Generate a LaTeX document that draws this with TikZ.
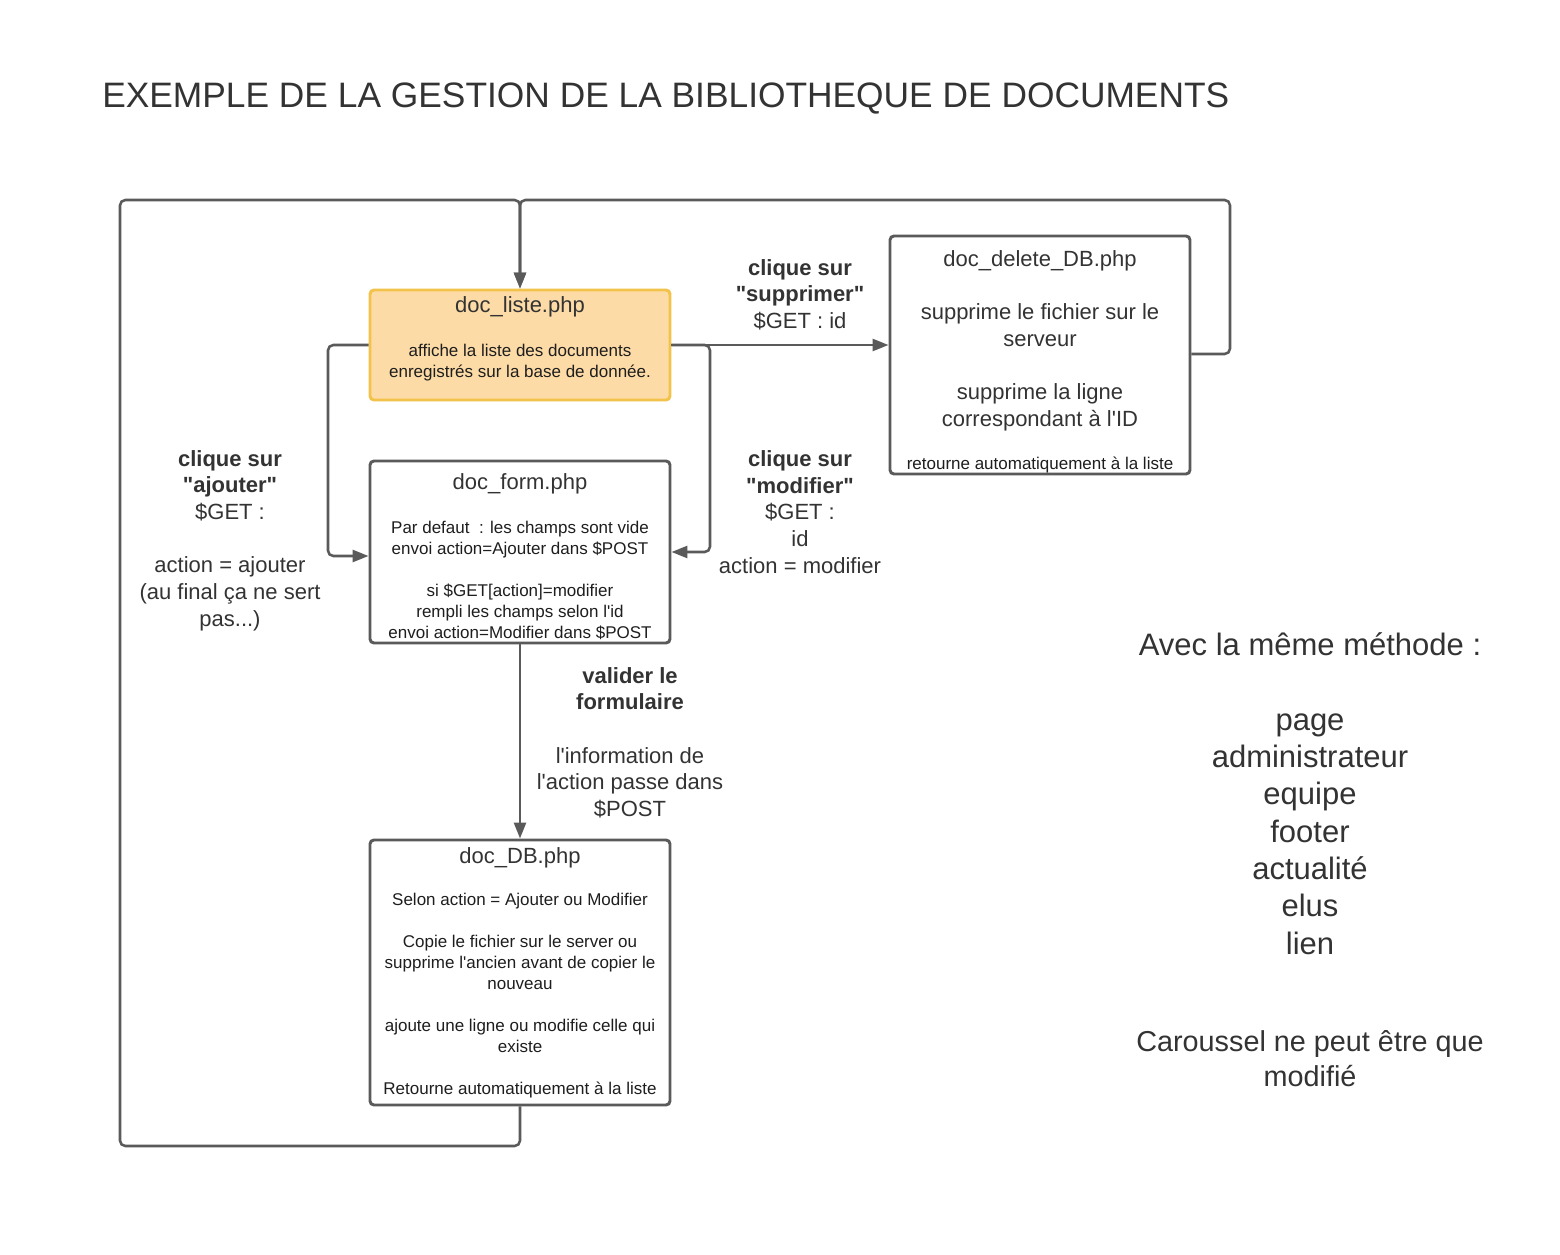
\documentclass[tikz,border=0pt]{standalone}
\usepackage{fontspec}
\setmainfont{Liberation Sans}
\usetikzlibrary{arrows.meta}
\definecolor{ln}{HTML}{5A5A5A}
\definecolor{tx}{HTML}{333333}
\definecolor{bd}{HTML}{1E1E1E}
\definecolor{orfill}{HTML}{FDDBA6}
\definecolor{orline}{HTML}{F2C34A}
\newcommand{\qd}{\textquotedbl}
\newcommand{\qs}{\textquotesingle}
\begin{document}
\begin{tikzpicture}[x=0.75pt,y=-0.75pt,
  box/.style={draw=ln, line width=2.2pt, rounded corners=3pt, minimum width=225pt, inner sep=0pt},
  conn/.style={draw=ln, line width=1.9pt, rounded corners=4pt},
  arr/.style={-{Triangle[length=12pt,width=9pt]}},
  big/.style={font=\fontsize{16.5}{20}\selectfont, text=tx, align=center, inner sep=0pt},
  small/.style={font=\fontsize{12.75}{15.75}\selectfont, text=bd, align=center, inner sep=0pt},
  side/.style={font=\fontsize{23.25}{28}\selectfont, text=tx, align=center, inner sep=0pt}
]
\useasboundingbox (0,0) rectangle (1560,1255);
\fill[white] (0,0) rectangle (1560,1255);

% title
\node[anchor=base west, inner sep=0pt, font=\fontsize{26.5}{32}\selectfont, text=tx] (title) at (102,108)
  {EXEMPLE DE LA GESTION DE LA BIBLIOTHEQUE DE DOCUMENTS};

% boxes
\node[box, draw=orline, fill=orfill, minimum height=82.5pt] (liste) at (520,345) {};
\node[box, minimum height=136.5pt] (form) at (520,552) {};
\node[box, minimum height=198.75pt] (db) at (520,972.5) {};
\node[box, minimum height=178.5pt] (del) at (1040,355) {};

% box texts
\node[big] (listeT) at (520,307) {doc\_liste.php};
\node[small] (listeB) at (520,362.5) {affiche la liste des documents\\enregistrés sur la base de donnée.};

\node[big] (formT) at (520,484) {doc\_form.php};
\node[small] (formB) at (520,580) {Par defaut\ \ : les champs sont vide\\envoi action=Ajouter dans \$POST\\ \mbox{}\\si \$GET[action]=modifier\\rempli les champs selon l\qs id\\envoi action=Modifier dans \$POST};

\node[big] (dbT) at (520,858) {doc\_DB.php};
\node[small] (dbB) at (520,996) {Selon action = Ajouter ou Modifier\\ \mbox{}\\Copie le fichier sur le server ou\\supprime l\qs ancien avant de copier le\\nouveau\\ \mbox{}\\ajoute une ligne ou modifie celle qui\\existe\\ \mbox{}\\Retourne automatiquement à la liste};

\node[big] (delT) at (1040,261) {doc\_delete\_DB.php};
\node[big] (delB) at (1040,367) {supprime le fichier sur le\\serveur\\ \mbox{}\\supprime la ligne\\correspondant à l\qs ID};
\node[small] (delR) at (1040,465) {retourne automatiquement à la liste};

% connectors
\draw[conn, arr] (db.south) -- (520,1146) -- (120,1146) -- (120,200) -- (520,200) -- (liste.north);
\draw[conn, arr] (del.east |- 0,354) -- (1230,354) -- (1230,200) -- (520,200) -- (liste.north);
\draw[conn, arr] (liste.east) -- (del.west |- liste.east);
\draw[conn, arr] (liste.east) -- (710,345) |- (form.east);
\draw[conn, arr] (liste.west) -- (328,345) |- ([yshift=-3pt]form.west);
\draw[conn, arr] (form.south) -- (db.north);

% labels
\node[big] (lsup) at (800,294.5)
  {\textbf{clique sur}\\\textbf{\qd supprimer\qd}\\\$GET : id};
\node[big] (lmod) at (800,512)
  {\textbf{clique sur}\\\textbf{\qd modifier\qd}\\\$GET :\\id\\action = modifier};
\node[big] (lajo) at (230,540.5)
  {\textbf{clique sur}\\\textbf{\qd ajouter\qd}\\\$GET :\\ \mbox{}\\action = ajouter\\(au final ça ne sert\\pas...)};
\node[big] (lval) at (630,742.5)
  {\textbf{valider le}\\\textbf{formulaire}\\ \mbox{}\\l\qs information de\\l\qs action passe dans\\\$POST};

% side notes
\node[side] (meth) at (1310,793.5) {Avec la même méthode :\\ \mbox{}\\page\\administrateur\\equipe\\footer\\actualité\\elus\\lien};
\node[side, font=\fontsize{21.6}{26.3}\selectfont] (caro) at (1310,1058.5) {Caroussel ne peut être que\\modifié};
\end{tikzpicture}
\end{document}
